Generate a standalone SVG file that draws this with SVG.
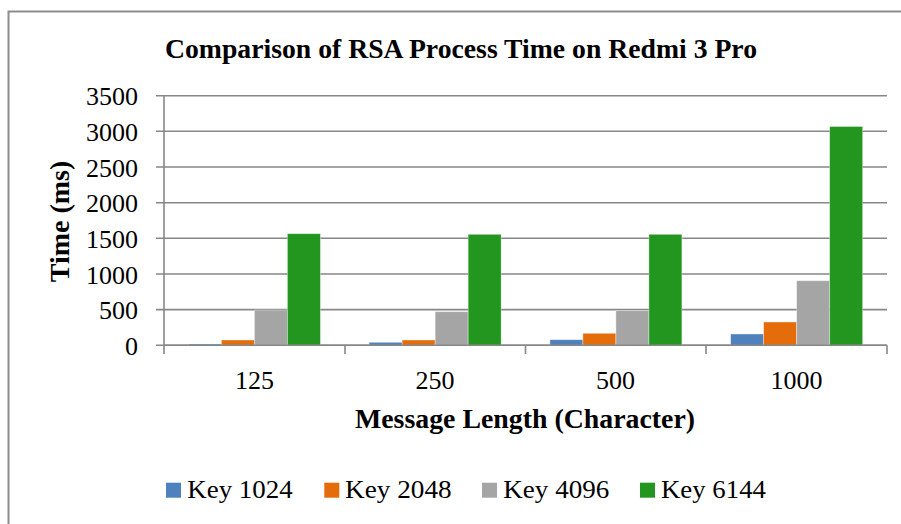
<svg xmlns="http://www.w3.org/2000/svg" width="901" height="524" viewBox="0 0 901 524">
<style>
text{font-family:"Liberation Serif","Times New Roman",serif;fill:#000}
.tick{font-size:26px;text-anchor:end}
.cat{font-size:26px;text-anchor:middle}
.leg{font-size:26px}
.grid{stroke:#878787;stroke-width:1.6;fill:none}
.b1{fill:#4F81BD}.b2{fill:#E46C0A}.b3{fill:#A5A5A5}.b4{fill:#22961F}
.bar rect{stroke:#ffffff;stroke-opacity:0.45;stroke-width:0.8}
</style>
<rect width="901" height="524" fill="#fff"/>
<rect x="8.5" y="11.5" width="920" height="540" fill="none" stroke="#8c8c8c" stroke-width="2"/>
<text id="title" x="165" y="58" font-size="27.5" font-weight="bold" textLength="592" lengthAdjust="spacingAndGlyphs">Comparison of RSA Process Time on Redmi 3 Pro</text>
<g id="grid">
<path class="grid" d="M156 345.3H887M156 309.6H887M156 274H887M156 238.3H887M156 202.7H887M156 167H887M156 131.3H887M156 95.7H887"/>
<path class="grid" d="M164 95.7V354M345 345.3V354M525.5 345.3V354M706 345.3V354M887 345.3V354"/>
</g>
<g id="yticks">
<text class="tick" x="138" y="355">0</text>
<text class="tick" x="138" y="319.3">500</text>
<text class="tick" x="138" y="283.7">1000</text>
<text class="tick" x="138" y="248">1500</text>
<text class="tick" x="138" y="212.4">2000</text>
<text class="tick" x="138" y="176.7">2500</text>
<text class="tick" x="138" y="141">3000</text>
<text class="tick" x="138" y="105.4">3500</text>
</g>
<text id="ytitle" transform="translate(69,221.5) rotate(-90)" font-size="28" font-weight="bold" text-anchor="middle">Time (ms)</text>
<g id="bars" class="bar">
<rect class="b1" x="188.4" y="344" width="33" height="1.3"/>
<rect class="b2" x="221.4" y="340" width="33" height="5.3"/>
<rect class="b3" x="254.4" y="310" width="33" height="35.3"/>
<rect class="b4" x="287.4" y="233.7" width="33" height="111.6"/>
<rect class="b1" x="369.15" y="342.3" width="33" height="3"/>
<rect class="b2" x="402.15" y="340" width="33" height="5.3"/>
<rect class="b3" x="435.15" y="311.7" width="33" height="33.6"/>
<rect class="b4" x="468.15" y="234.3" width="33" height="111"/>
<rect class="b1" x="549.9" y="339.7" width="33" height="5.6"/>
<rect class="b2" x="582.9" y="333.3" width="33" height="12"/>
<rect class="b3" x="615.9" y="310.7" width="33" height="34.6"/>
<rect class="b4" x="648.9" y="234.3" width="33" height="111"/>
<rect class="b1" x="730.65" y="334" width="33" height="11.3"/>
<rect class="b2" x="763.65" y="322" width="33" height="23.3"/>
<rect class="b3" x="796.65" y="280.7" width="33" height="64.6"/>
<rect class="b4" x="829.65" y="126.5" width="33" height="218.8"/>
</g>
<path class="grid" d="M164 345.3H887"/>
<g id="xticks">
<text class="cat" x="254.5" y="389">125</text>
<text class="cat" x="435" y="389">250</text>
<text class="cat" x="615.5" y="389">500</text>
<text class="cat" x="796.5" y="389">1000</text>
</g>
<text id="xtitle" x="525" y="427.7" font-size="28" font-weight="bold" text-anchor="middle" textLength="340" lengthAdjust="spacingAndGlyphs">Message Length (Character)</text>
<g id="legend">
<rect class="b1" x="166" y="482.7" width="15" height="15"/>
<text class="leg" x="187.3" y="498.3" textLength="105.4" lengthAdjust="spacingAndGlyphs">Key 1024</text>
<rect class="b2" x="324.3" y="482.7" width="15" height="15"/>
<text class="leg" x="345" y="498.3" textLength="106.7" lengthAdjust="spacingAndGlyphs">Key 2048</text>
<rect class="b3" x="482" y="482.7" width="15" height="15"/>
<text class="leg" x="503.3" y="498.3" textLength="106" lengthAdjust="spacingAndGlyphs">Key 4096</text>
<rect class="b4" x="640" y="482.7" width="15" height="15"/>
<text class="leg" x="661" y="498.3" textLength="105" lengthAdjust="spacingAndGlyphs">Key 6144</text>
</g>
</svg>
